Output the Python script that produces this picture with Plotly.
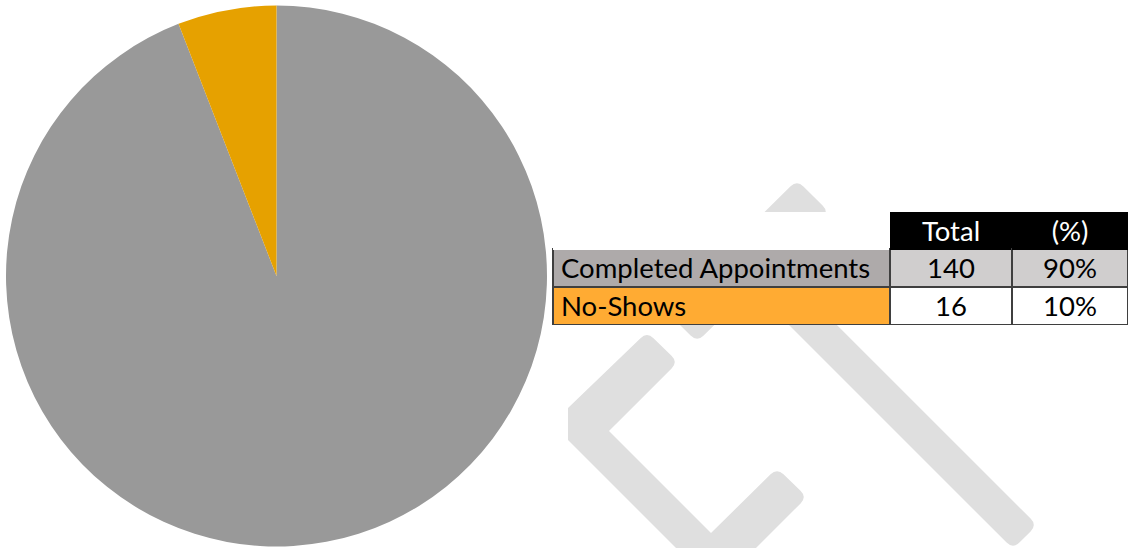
import plotly.graph_objects as go

# ---- data ----
pie_labels = ["Completed Appointments", "No-Shows"]
pie_shares = [94.1, 5.9]          # slice sizes as drawn in the pie
pie_colors = ["#999999", "#E6A100"]

table_categories = ["Completed Appointments", "No-Shows"]
table_totals = [140, 16]
table_percents = ["90%", "10%"]
table_headers = ["", "Total", "(%)"]

W, H = 1128, 548

fig = go.Figure()

# pie
fig.add_trace(go.Pie(
    labels=pie_labels, values=pie_shares, sort=False, direction="clockwise",
    rotation=0, marker=dict(colors=pie_colors, line=dict(width=0)),
    textinfo="none", hoverinfo="none", showlegend=False,
    domain=dict(x=[6 / W, 547 / W], y=[1 - 547 / H, 1 - 5 / H]),
))

# table
font_fam = "Lato, Carlito, Calibri, sans-serif"
fig.add_trace(go.Table(
    domain=dict(x=[553 / W, 1.0], y=[1 - 326 / H, 1 - 212 / H]),
    columnwidth=[337, 122, 116],
    header=dict(
        values=table_headers,
        fill_color=["white", "black", "black"],
        line=dict(color=["white", "black", "black"], width=1),
        font=dict(family=font_fam, size=27.5, color="white"),
        align="center", height=37,
    ),
    cells=dict(
        values=[table_categories, table_totals, table_percents],
        fill_color=[["#AEAAAA", "#FFAB33"], ["#D0CECE", "white"], ["#D0CECE", "white"]],
        line=dict(color="#3F3F3F", width=2),
        font=dict(family=font_fam, size=27.5, color="black"),
        align=["left", "center", "center"], height=38,
    ),
))


def rounded_path(pts, radius, round_idx):
    n = len(pts)
    segs = []
    for i, p in enumerate(pts):
        if i in round_idx:
            prv = pts[i - 1]
            nxt = pts[(i + 1) % n]
            def toward(a, b, r):
                dx, dy = b[0] - a[0], b[1] - a[1]
                d = (dx * dx + dy * dy) ** 0.5
                return (a[0] + dx / d * r, a[1] + dy / d * r)
            pin = toward(p, prv, radius)
            pout = toward(p, nxt, radius)
            segs.append(("L" if segs else "M") + f"{pin[0]:.1f},{pin[1]:.1f}")
            segs.append(f"Q{p[0]:.1f},{p[1]:.1f} {pout[0]:.1f},{pout[1]:.1f}")
        else:
            segs.append(("L" if segs else "M") + f"{p[0]:.1f},{p[1]:.1f}")
    return " ".join(segs) + " Z"


wm = "#DFDFDF"
watermark = [
    ([(797, 180), (829, 212), (697, 342), (665, 310)], [0, 1, 2, 3]),
    ([(737, 273), (761, 249), (1037, 525), (1013, 549)], [0, 1, 2, 3]),
    ([(647, 332), (568, 408), (568, 440), (716, 588), (807, 497), (777, 468),
      (711, 533), (609, 431), (678, 362)], [0, 4, 5, 8]),
]
for pts, ridx in watermark:
    fig.add_shape(type="path", path=rounded_path(pts, 9, ridx), xref="x", yref="y",
                  fillcolor=wm, line=dict(width=0), layer="below")

fig.update_layout(
    width=W, height=H, margin=dict(l=0, r=0, t=0, b=0),
    paper_bgcolor="white", plot_bgcolor="rgba(0,0,0,0)",
    xaxis=dict(range=[0, W], visible=False, fixedrange=True),
    yaxis=dict(range=[H, 0], visible=False, fixedrange=True),
)

fig.write_html("out.html", config={"displayModeBar": False},
               post_script="document.body.style.margin='0px';")
